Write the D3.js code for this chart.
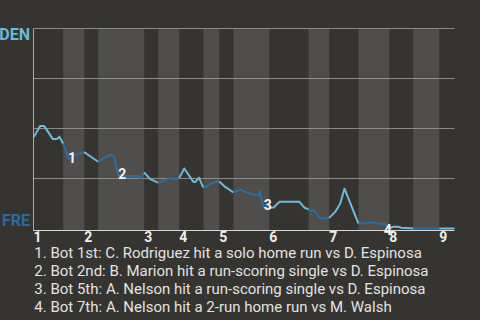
<!DOCTYPE html>
<html>
<head>
<meta charset="utf-8">
<script src="https://cdn.jsdelivr.net/npm/d3@7"></script>
<style>
  html, body { margin: 0; padding: 0; background: #363430; }
  svg { display: block; }
</style>
</head>
<body>
<svg width="480" height="320"></svg>
<script>
// half-inning start positions along the game (top 1st, bot 1st, top 2nd, ...)
let halfStarts = [0, 6.35, 10.84, 13.83, 23.66, 26.66, 31.15, 36.34, 39.70, 42.75,
    50.39, 58.79, 63.21, 69.48, 76.04, 81.17, 86.73]
let gameEnd = 90
let inningLabels = ["1", "2", "3", "4", "5", "6", "7", "8", "9"]
let teams = ["DEN", "FRE"]

// win probability for DEN through the game
let progress = [0, 1.43, 2.29, 4.15, 5.0, 5.56, 6.35,
    7.48, 8.91, 10.84,
    13.83,
    16.40, 17.25, 18.11, 19.82, 22.38, 22.92, 23.66,
    24.95, 26.66,
    28.15, 29.22, 30.29, 31.15,
    32.22, 34.2, 34.57, 35.38, 36.34,
    37.77, 39.2, 39.70,
    40.98, 42.75,
    44.18, 45.62, 47.03, 48.1, 48.42, 49.17, 50.39,
    51.35, 52.59, 56.80, 57.97, 58.79,
    59.36, 59.79, 61.28, 63.21,
    64.5, 65.57, 66.48, 69.48,
    70.91, 72.41, 74.12, 75.19, 76.04,
    76.89, 77.96, 78.6, 80.53, 81.17,
    86.73, 90]
let denProb = [0.455, 0.512, 0.512, 0.447, 0.447, 0.459, 0.424,
    0.349, 0.369, 0.382,
    0.334,
    0.369, 0.357, 0.267, 0.262, 0.262, 0.252, 0.280,
    0.247, 0.229,
    0.242, 0.253, 0.245, 0.253,
    0.300, 0.233, 0.232, 0.254, 0.203,
    0.222, 0.235, 0.235,
    0.208, 0.180,
    0.193, 0.180, 0.170, 0.163, 0.185, 0.107, 0.104,
    0.105, 0.134, 0.134, 0.103, 0.096,
    0.087, 0.094, 0.050, 0.053,
    0.083, 0.125, 0.199, 0.024,
    0.028, 0.030, 0.024, 0.025, 0.0,
    0.009, 0.009, 0.004, 0.001, 0.0,
    0.0, 0.0]

let noteText = [
    "1. Bot 1st: C. Rodriguez hit a solo home run vs D. Espinosa",
    "2. Bot 2nd: B. Marion hit a run-scoring single vs D. Espinosa",
    "3. Bot 5th: A. Nelson hit a run-scoring single vs D. Espinosa",
    "4. Bot 7th: A. Nelson hit a 2-run home run vs M. Walsh"
]
let noteX = [8.21, 18.96, 50.07, 75.72]
let noteP = [0.328, 0.25, 0.0915, -0.0335]

let colorTop = "#6bbcdc", colorBot = "#2a6ea6"

let svg = d3.select("svg")

let x = d3.scaleLinear().domain([0, gameEnd]).range([33.5, 454.5])
let y = d3.scaleLinear().domain([0, 1]).range([228.5, 28.5])

let points = progress.map((d, i) => ({ x: d, p: denProb[i] }))

let halves = halfStarts.map((s, i) => ({
    start: s,
    end: i < halfStarts.length - 1 ? halfStarts[i + 1] : gameEnd,
    bottom: i % 2 === 1
}))

// inning bands
svg.append("g").selectAll("rect")
    .data(halves.filter(d => d.bottom))
    .join("rect")
    .attr("x", d => x(d.start))
    .attr("y", y(1))
    .attr("width", d => x(d.end) - x(d.start))
    .attr("height", 230 - y(1))
    .attr("fill", "#4f4e4c")

// gridlines
svg.append("g").selectAll("line")
    .data([0.25, 0.5, 0.75, 1])
    .join("line")
    .attr("x1", x(0)).attr("x2", x(gameEnd))
    .attr("y1", d => y(d)).attr("y2", d => y(d))
    .attr("stroke", "#8c8b88")
    .attr("stroke-width", 1)

// axes
svg.append("line")
    .attr("x1", x(0)).attr("x2", x(0))
    .attr("y1", y(1)).attr("y2", 231)
    .attr("stroke", "#a9a8a5")
svg.append("line")
    .attr("x1", x(0)).attr("x2", x(gameEnd))
    .attr("y1", 230.5).attr("y2", 230.5)
    .attr("stroke", "#d8d8d6")
    .attr("stroke-width", 1.2)

let line = d3.line()
    .x(d => x(d.x))
    .y(d => y(d.p))

// win probability line, coloured per half inning
svg.append("g").selectAll("path")
    .data(halves)
    .join("path")
    .attr("d", h => line(points.filter(d => d.x >= h.start - 1e-6 && d.x <= h.end + 1e-6)))
    .attr("fill", "none")
    .attr("stroke", h => h.bottom ? colorBot : colorTop)
    .attr("stroke-width", 2)
    .attr("stroke-linejoin", "round")

// team labels
svg.append("text")
    .attr("x", 30).attr("y", y(1) + 11)
    .attr("text-anchor", "end")
    .style("font-family", "'Liberation Sans Narrow', Roboto, sans-serif")
    .style("font-weight", "bold")
    .style("font-size", "16px")
    .attr("fill", "#6cb9d9")
    .text(teams[0])
svg.append("text")
    .attr("x", 30).attr("y", y(0) - 3)
    .attr("text-anchor", "end")
    .style("font-family", "'Liberation Sans Narrow', Roboto, sans-serif")
    .style("font-weight", "bold")
    .style("font-size", "16px")
    .attr("fill", "#2a6aa2")
    .text(teams[1])

// inning labels
svg.append("g").selectAll("text")
    .data(inningLabels)
    .join("text")
    .attr("x", (d, i) => x(halfStarts[i * 2]))
    .attr("y", 242.3)
    .style("font-family", "Roboto, sans-serif")
    .style("font-weight", "bold")
    .style("font-size", "14px")
    .attr("fill", "#eeeeee")
    .text(d => d)

// annotation markers
svg.append("g").selectAll("text")
    .data(noteX)
    .join("text")
    .attr("x", d => x(d))
    .attr("y", (d, i) => y(noteP[i]))
    .attr("text-anchor", "middle")
    .style("font-family", "Roboto, sans-serif")
    .style("font-weight", "bold")
    .style("font-size", "14px")
    .attr("fill", "#f2f2f2")
    .text((d, i) => i + 1)

// annotation list
svg.append("g").selectAll("text")
    .data(noteText)
    .join("text")
    .attr("x", 34.3)
    .attr("y", (d, i) => 258.3 + i * 17.8)
    .style("font-family", "Roboto, sans-serif")
    .style("font-size", "15px")
    .attr("fill", "#e2e2e2")
    .text(d => d)
</script>
</body>
</html>
